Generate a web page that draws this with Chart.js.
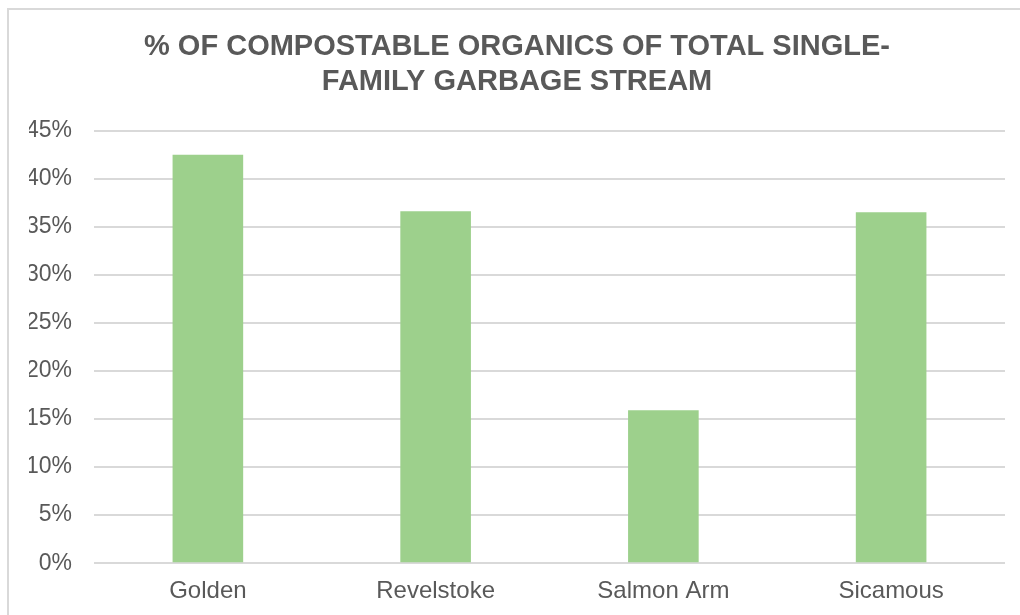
<!DOCTYPE html>
<html>
<head>
<meta charset="utf-8">
<script src="https://cdn.jsdelivr.net/npm/chart.js@4/dist/chart.umd.min.js"></script>
<style>
  html, body { margin: 0; padding: 0; background: #fff; }
  #wrap { position: absolute; left: 7px; top: 8px; width: 1013px; height: 607px;
    border-left: 2px solid #d9d9d9; border-top: 2px solid #d9d9d9; }
  #box { position: absolute; left: 0; top: 0; width: 1020px; height: 615px; }
</style>
</head>
<body>
<div id="wrap"></div>
<div id="box"><canvas id="myChart"></canvas></div>
<script>
const towns = ['Golden', 'Revelstoke', 'Salmon Arm', 'Sicamous']
const organicsPct = [42.5, 36.6, 15.9, 36.5]
const titleLines = ['% OF COMPOSTABLE ORGANICS OF TOTAL SINGLE-', 'FAMILY GARBAGE STREAM']

const textColor = '#595959'
const barColor = '#9dd08c'
const gridColor = '#d9d9d9'
const fontFamily = 'Liberation Sans, Arial, sans-serif'

const ctx = document.getElementById('myChart').getContext('2d')
const myChart = new Chart(ctx, {
  type: 'bar',
  data: {
    labels: towns,
    datasets: [{
      data: organicsPct,
      backgroundColor: barColor,
      borderWidth: 0,
      categoryPercentage: 1,
      barPercentage: 0.31
    }]
  },
  options: {
    responsive: true,
    maintainAspectRatio: false,
    animation: false,
    layout: { padding: { left: 29, right: 15, top: 0, bottom: 3 } },
    plugins: {
      legend: { display: false },
      tooltip: { enabled: false },
      title: {
        display: true,
        text: titleLines,
        color: textColor,
        font: { family: fontFamily, size: 29, weight: 'bold', lineHeight: 1.2 },
        padding: { top: 30, bottom: 31 }
      }
    },
    scales: {
      x: {
        grid: { display: false },
        border: { display: false },
        ticks: {
          color: textColor,
          font: { family: fontFamily, size: 24 },
          padding: 6
        }
      },
      y: {
        min: 0,
        max: 45,
        // fixed axis width so the plot starts at x=94
        afterFit: axis => { axis.width = 65 },
        grid: { color: gridColor, lineWidth: 2, drawTicks: false },
        border: { display: false },
        ticks: {
          stepSize: 5,
          color: textColor,
          font: { family: fontFamily, size: 23 },
          padding: 22,
          callback: v => v + '%'
        }
      }
    }
  }
})
</script>
</body>
</html>
